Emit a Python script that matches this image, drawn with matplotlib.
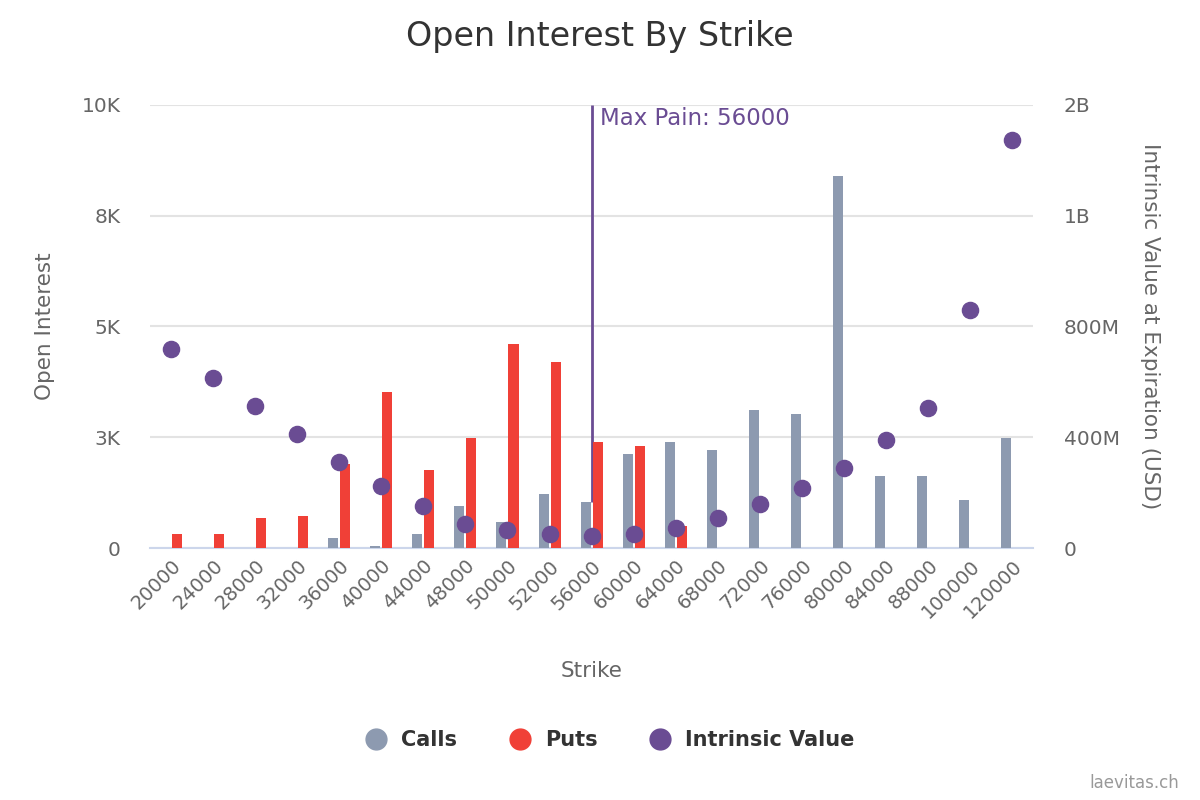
import numpy as np
import matplotlib.pyplot as plt

strikes = ["20000", "24000", "28000", "32000", "36000", "40000", "44000", "48000",
           "50000", "52000", "56000", "60000", "64000", "68000", "72000", "76000",
           "80000", "84000", "88000", "100000", "120000"]
calls = [0, 0, 0, 0, 226, 45, 316, 948, 587, 1219, 1038, 2122, 2393, 2212,
         3115, 3025, 8397, 1625, 1625, 1084, 2483]
puts = [316, 316, 677, 722, 1896, 3521, 1761, 2483, 4605, 4199, 2393, 2302,
        497, 0, 0, 0, 0, 0, 0, 0, 0]
intrinsic = [719e6, 614e6, 513e6, 412e6, 311e6, 224e6, 152e6, 87e6, 65e6, 51e6,
             43e6, 51e6, 72e6, 108e6, 159e6, 217e6, 289e6, 390e6, 506e6, 860e6, 1474e6]
max_pain = "56000"

C_CALLS = "#8D9AB0"
C_PUTS = "#F04037"
C_IV = "#6A4C93"
GRAY = "#666666"


def k_fmt(v, pos):
    if v == 0:
        return "0"
    return "%dK" % int(v / 1000 + 0.5)


def usd_fmt(v, pos):
    if v == 0:
        return "0"
    if v >= 1e9:
        return "%dB" % int(v / 1e9 + 0.5)
    return "%dM" % int(v / 1e6 + 0.5)


def main():
    plt.rcParams['font.family'] = ['DejaVu Sans']
    fig = plt.figure(figsize=(12, 8), dpi=100)
    ax = fig.add_axes([0.125, 0.315, 0.736, 0.554])
    x = np.arange(len(strikes))
    w = 0.238
    off = 0.143

    ax.bar(x - off, calls, width=w, color=C_CALLS, zorder=3)
    ax.bar(x + off, puts, width=w, color=C_PUTS, zorder=3)

    # max pain line from top down to the calls bar
    mp = strikes.index(max_pain)
    ax.vlines(mp, calls[mp], 10000, color=C_IV, lw=2, zorder=2)
    ax.text(mp + 0.2, 9950, "Max Pain: " + max_pain, color=C_IV, fontsize=16.5,
            va="top", ha="left", zorder=5)

    ax.set_xlim(-0.5, len(strikes) - 0.5)
    ax.set_ylim(0, 10000)
    ax.set_yticks([0, 2500, 5000, 7500, 10000])
    ax.yaxis.set_major_formatter(plt.FuncFormatter(k_fmt))
    ax.grid(axis="y", color="#E3E3E3", lw=1.5, zorder=0)
    ax.set_axisbelow(True)
    for s in ["top", "left", "right"]:
        ax.spines[s].set_visible(False)
    ax.spines["bottom"].set_color("#CCD6EB")
    ax.spines["bottom"].set_linewidth(1.5)
    ax.tick_params(axis="y", length=0, labelsize=14.5, labelcolor=GRAY, pad=21)
    ax.tick_params(axis="x", length=0, labelsize=14, labelcolor=GRAY, pad=6)
    ax.set_xticks(x)
    ax.set_xticklabels(strikes, rotation=45, ha="right", rotation_mode="anchor")
    ax.set_xlabel("Strike", fontsize=15.5, color=GRAY, labelpad=28)
    ax.set_ylabel("Open Interest", fontsize=15.5, color=GRAY, labelpad=19)

    ax2 = ax.twinx()
    ax2.scatter(x, intrinsic, s=135, color=C_IV, zorder=4)
    ax2.set_ylim(0, 1.6e9)
    ax2.set_yticks([0, 4e8, 8e8, 1.2e9, 1.6e9])
    ax2.yaxis.set_major_formatter(plt.FuncFormatter(usd_fmt))
    ax2.tick_params(axis="y", length=0, labelsize=14.5, labelcolor=GRAY, pad=22)
    for s in ["top", "left", "right", "bottom"]:
        ax2.spines[s].set_visible(False)
    ax2.set_ylabel("Intrinsic Value at Expiration (USD)", fontsize=15.5, color=GRAY,
                   rotation=270, labelpad=29)

    fig.suptitle("Open Interest By Strike", fontsize=24, color="#333333", y=0.975)

    handles = [plt.Line2D([], [], ls="", marker="o", ms=15, color=c) for c in (C_CALLS, C_PUTS, C_IV)]
    fig.legend(handles, ["Calls", "Puts", "Intrinsic Value"], loc="center",
               bbox_to_anchor=(0.504, 0.075), ncol=3, frameon=False,
               prop={"size": 15, "weight": "bold"}, labelcolor="#333333",
               handletextpad=0.2, columnspacing=2.0)

    fig.text(0.983, 0.01, "laevitas.ch", ha="right", va="bottom", fontsize=12, color="#999999")
    fig.savefig("out.png", dpi=100)


if __name__ == '__main__':
    main()
